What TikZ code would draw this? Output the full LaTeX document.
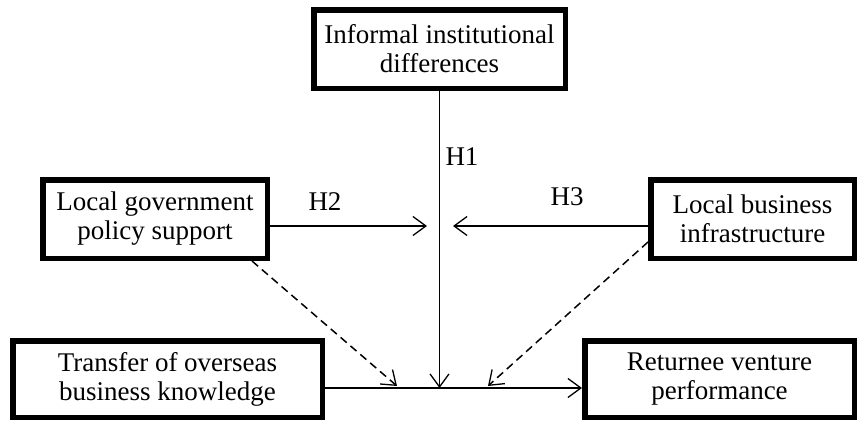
\documentclass[tikz,border=0pt]{standalone}
\usepackage{fontspec}
\setmainfont{Liberation Serif}
\usetikzlibrary{arrows.meta,calc}

\begin{document}
\begin{tikzpicture}[x=1pt,y=-1pt]
  \tikzset{font={\fontsize{27pt}{29pt}\selectfont},
    box/.style={draw,line width=5.5pt,align=center,inner sep=0pt},
    arr/.style={-{Straight Barb[length=13pt,width=19pt,line width=1.3pt]},line width=1.3pt},
    darr/.style={arr,line width=1.5pt,dash pattern=on 8pt off 5pt}}
  \useasboundingbox (0,0) rectangle (865,423);
  \node[box,minimum width=251.5pt,minimum height=78.5pt] (inf) at (439.5,49) {Informal institutional\\differences};
  \node[box,minimum width=224.5pt,minimum height=78.5pt] (gov) at (155,219) {Local government\\policy support};
  \node[box,minimum width=203.5pt,minimum height=78.5pt] (infra) at (752.5,219) {Local business\\infrastructure};
  \node[box,minimum width=309.5pt,minimum height=76.5pt] (transfer) at (167.5,379) {Transfer of overseas\\business knowledge};
  \node[box,minimum width=269.5pt,minimum height=76.5pt] (perf) at (719.5,379) {Returnee venture\\performance};
  % arrow ends
  \coordinate (jn) at (439.5,388);
  \coordinate (hl) at (427,226);
  \coordinate (hr) at (453,226);
  \coordinate (dl) at (397,386);
  \coordinate (dr) at (488,386);
  \draw[arr] (transfer.east |- jn)--(perf.west |- jn);
  \draw[arr] (inf.south)--(jn);
  \draw[arr] (gov.east |- hl)--(hl);
  \draw[arr] (infra.west |- hr)--(hr);
  \draw[darr] ([xshift=-18pt]gov.south east)--(dl);
  \draw[darr] ([yshift=19pt]infra.south west)--(dr);
  \node (h1) at (462,157) {H1};
  \node (h2) at (325,202) {H2};
  \node (h3) at (567,197) {H3};
\end{tikzpicture}
\end{document}
